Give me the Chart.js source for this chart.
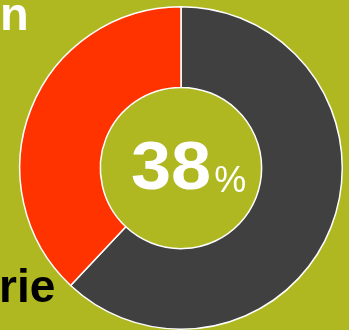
<!DOCTYPE html>
<html>
<head>
<meta charset="utf-8">
<script src="https://cdn.jsdelivr.net/npm/chart.js@4/dist/chart.umd.min.js"></script>
<style>
  html, body { margin: 0; padding: 0; background: #afb821; overflow: hidden; }
  #wrap { position: relative; width: 349px; height: 330px; }
</style>
</head>
<body>
<div id="wrap"><canvas id="donut" width="349" height="330"></canvas></div>
<script>
const segments = ['Rest', 'Anteil'];
const values = [62, 38];
const colors = ['#404040', '#ff3300'];
const centerValue = '38';
const centerUnit = '%';
const topLabel = 'n';
const bottomLabel = 'rie';

const textPlugin = {
    id: 'texts',
    afterDraw(chart) {
        const c = chart.ctx;
        const arc = chart.getDatasetMeta(0).data[0];
        c.save();
        c.textBaseline = 'alphabetic';
        c.textAlign = 'left';

        // cut-off labels at the left edge
        c.font = 'bold 47px "Liberation Sans", Arial, sans-serif';
        c.fillStyle = '#ffffff';
        c.fillText(topLabel, 0, 30);
        c.fillStyle = '#000000';
        c.font = 'bold 46px "Liberation Sans", Arial, sans-serif';
        c.fillText(bottomLabel, -1, 302);

        // center value, a bit right of the hole centre
        const x0 = arc.x - 50;
        const base = 189;
        c.fillStyle = '#ffffff';
        c.font = 'bold 68px "Liberation Sans", Arial, sans-serif';
        c.save();
        c.translate(x0, base);
        c.scale(1.06, 1);
        c.fillText(centerValue, 0, 0);
        const w1 = c.measureText(centerValue).width * 1.06;
        c.restore();
        c.font = 'normal 36px "Liberation Sans", Arial, sans-serif';
        c.fillText(centerUnit, x0 + w1 + 3, base + 3);
        c.restore();
    }
};

new Chart(document.getElementById('donut').getContext('2d'), {
    type: 'doughnut',
    data: {
        labels: segments,
        datasets: [{
            data: values,
            backgroundColor: colors,
            borderColor: '#ffffff',
            borderWidth: 1.5
        }]
    },
    options: {
        responsive: false,
        animation: false,
        cutout: '50%',
        layout: { padding: { left: 19, right: 6, top: 6, bottom: 0 } },
        plugins: {
            legend: { display: false },
            tooltip: { enabled: false }
        }
    },
    plugins: [textPlugin]
});
</script>
</body>
</html>
